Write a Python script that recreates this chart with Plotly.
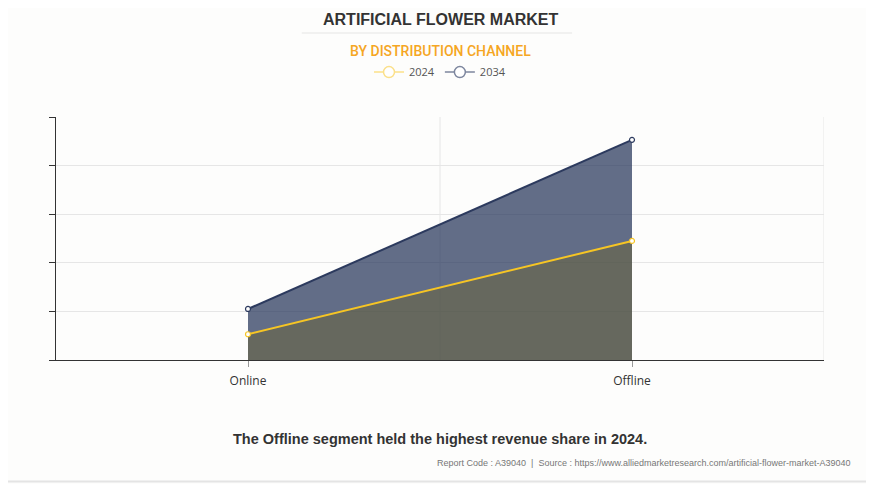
import plotly.graph_objects as go

categories = ["Online", "Offline"]
values_2024 = [0.53, 2.45]
values_2034 = [1.05, 4.53]
y_ticks = [0, 1, 2, 3, 4, 5]

title = "ARTIFICIAL FLOWER MARKET"
subtitle = "BY DISTRIBUTION CHANNEL"
footer = "The Offline segment held the highest revenue share in 2024."
source = "Report Code : A39040  |  Source : https://www.alliedmarketresearch.com/artificial-flower-market-A39040"

fig = go.Figure()

fig.add_trace(go.Scatter(
    x=categories, y=values_2034, name="2034", mode="lines+markers",
    line=dict(color="#2c3a5e", width=2),
    marker=dict(symbol="circle", size=5, color="#ffffff", line=dict(color="#2c3a5e", width=1.2)),
    fill="tozeroy", fillcolor="rgba(38,52,90,0.72)", showlegend=False,
))
fig.add_trace(go.Scatter(
    x=categories, y=values_2024, name="2024", mode="lines+markers",
    line=dict(color="#f6c524", width=2),
    marker=dict(symbol="circle", size=5, color="#ffffff", line=dict(color="#f6c524", width=1.2)),
    fill="tozeroy", fillcolor="rgba(106,100,53,0.5)", showlegend=False,
))
# legend entries
fig.add_trace(go.Scatter(
    x=[None], y=[None], name="2024", mode="lines+markers",
    line=dict(color="#fbe08a", width=1.5),
    marker=dict(symbol="circle", size=11, color="#ffffff", line=dict(color="#fbe08a", width=1.5)),
))
fig.add_trace(go.Scatter(
    x=[None], y=[None], name="2034", mode="lines+markers",
    line=dict(color="#7d869e", width=1.5),
    marker=dict(symbol="circle", size=11, color="#ffffff", line=dict(color="#7d869e", width=1.5)),
))

shapes = []
for xb in [0.5, 1.5]:
    shapes.append(dict(type="line", xref="x", yref="paper", x0=xb, x1=xb, y0=0, y1=1,
                       line=dict(color="#e6e6e6", width=1), layer="below"))
# title underline
shapes.append(dict(type="line", xref="paper", yref="paper", x0=0.32, x1=0.672, y0=1.346, y1=1.346,
                   line=dict(color="#ececec", width=1.5)))
# outer border (right and bottom)
shapes.append(dict(type="line", xref="paper", yref="paper", x0=1.062, x1=1.062, y0=-0.5, y1=1.46,
                   line=dict(color="#e4e4e4", width=2)))
shapes.append(dict(type="line", xref="paper", yref="paper", x0=-0.08, x1=1.062, y0=-0.5, y1=-0.5,
                   line=dict(color="#e4e4e4", width=2)))

fig.update_layout(
    width=874, height=484,
    margin=dict(l=48, r=58, t=109, b=132),
    paper_bgcolor="#fdfdfc", plot_bgcolor="#fdfdfc",
    font=dict(family="Liberation Sans, Arial, sans-serif", color="#333"),
    showlegend=True,
    legend=dict(orientation="h", x=0.5, xanchor="center", y=1.185, yanchor="middle",
                font=dict(size=11, color="#555", family="Open Sans, sans-serif"),
                itemwidth=30, bgcolor="rgba(0,0,0,0)", tracegroupgap=0),
    shapes=shapes,
    xaxis=dict(type="category", categoryorder="array", categoryarray=categories,
               range=[-0.5, 1.5], showgrid=False, zeroline=False,
               showline=True, linecolor="#333", linewidth=1,
               ticks="outside", ticklen=6, tickcolor="#999", ticklabelstandoff=4,
               tickfont=dict(size=12, color="#333", family="Open Sans, sans-serif")),
    yaxis=dict(range=[0, 5], tickvals=y_ticks, showticklabels=False,
               showgrid=True, gridcolor="#e6e6e6", zeroline=False,
               showline=True, linecolor="#333", linewidth=1,
               ticks="outside", ticklen=6, tickcolor="#333"),
    annotations=[
        dict(text="<b>" + title + "</b>", xref="paper", yref="paper", x=0.5, y=1.403, yanchor="middle",
             showarrow=False, font=dict(size=16, color="#333", family="Liberation Sans, Arial")),
        dict(text=subtitle, xref="paper", yref="paper", x=0.5, y=1.272, yanchor="middle",
             showarrow=False, font=dict(size=14, color="#f5a623", family="Roboto, sans-serif", weight=500)),
        dict(text="<b>" + footer + "</b>", xref="paper", yref="paper", x=0.5, y=-0.325, yanchor="middle",
             showarrow=False, font=dict(size=14.5, color="#333", family="Liberation Sans, Arial")),
        dict(text=source, xref="paper", yref="paper", x=1.038, xanchor="right", y=-0.424, yanchor="middle",
             showarrow=False, font=dict(size=9, color="#777", family="Liberation Sans, Arial")),
    ],
)

fig.write_html("out.html")
